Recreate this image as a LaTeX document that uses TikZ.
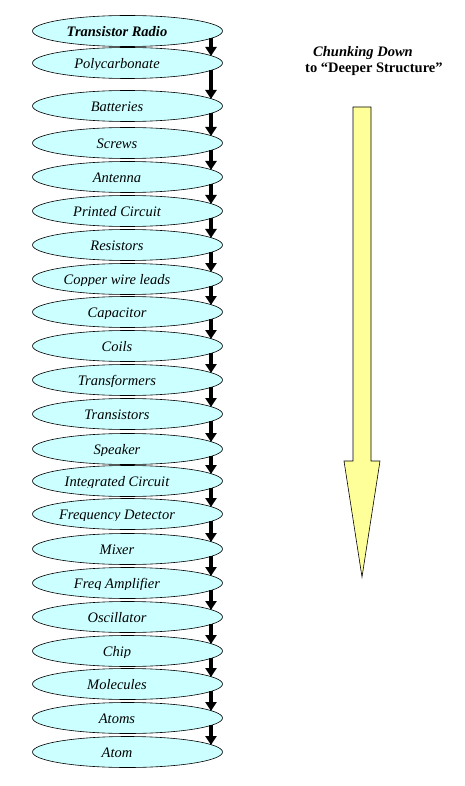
\documentclass[tikz,border=0pt]{standalone}
\usepackage{fontspec}
\setmainfont{Liberation Serif}
\newfontfamily\tnr{Liberation Serif}
\usetikzlibrary{arrows.meta,shapes.geometric}
\definecolor{ellfill}{RGB}{204,255,255}
\definecolor{arrfill}{RGB}{255,255,153}
\tikzset{
  ell/.style={ellipse, draw=black, line width=0.6pt, fill=ellfill, minimum width=190pt, minimum height=31pt, inner sep=0pt, outer sep=0pt},
  lbl/.style={font=\tnr\fontsize{14.5}{17}\selectfont\itshape, anchor=base, inner sep=0pt},
  link/.style={line width=3.2pt, -{Triangle[width=11pt,length=9pt]}},
  bigarrow/.style={fill=arrfill, draw=black, line width=0.6pt, line join=miter},
  head/.style={font=\tnr\fontsize{14.5}{17}\selectfont\bfseries, anchor=base west, inner sep=0pt}
}
\begin{document}
\begin{tikzpicture}[x=1pt,y=-1pt]
\useasboundingbox (0,0) rectangle (465,786);
\foreach \y/\t [count=\i] in {31/{\bfseries Transistor Radio}, 63/Polycarbonate, 106/Batteries, 143/Screws, 177/Antenna, 211/Printed Circuit, 245/Resistors, 279/Copper wire leads, 312/Capacitor, 346/Coils, 380/Transformers, 414/Transistors, 449/Speaker, 481/Integrated Circuit, 514/Frequency Detector, 549/Mixer, 583/Freq Amplifier, 617/Oscillator, 651/Chip, 684/Molecules, 718/Atoms, 752/Atom}{
  \node[ell] (e\i) at (127.5,\y) {};
  \begin{scope}
    \clip (20,\y-20) rectangle (235,\y+6.8);
    \node[lbl] (t\i) at (117,\y+5.5) {\t};
  \end{scope}
}
\foreach \i [evaluate=\i as \j using {int(\i+1)}] in {1,...,21}{
  \draw[link] ([xshift=83.5pt,yshift=-7pt]e\i.center) -- ([xshift=83.5pt,yshift=7pt]e\j.center);
}
\draw[bigarrow] (353,107) -- (371,107) -- (371,461) -- (380,461) -- (362,577) -- (344,461) -- (353,461) -- cycle;
\node[head] (h1) at (313,57) {\itshape Chunking Down};
\node[head] (h2) at (305,73) {to “Deeper Structure”};
\end{tikzpicture}
\end{document}
